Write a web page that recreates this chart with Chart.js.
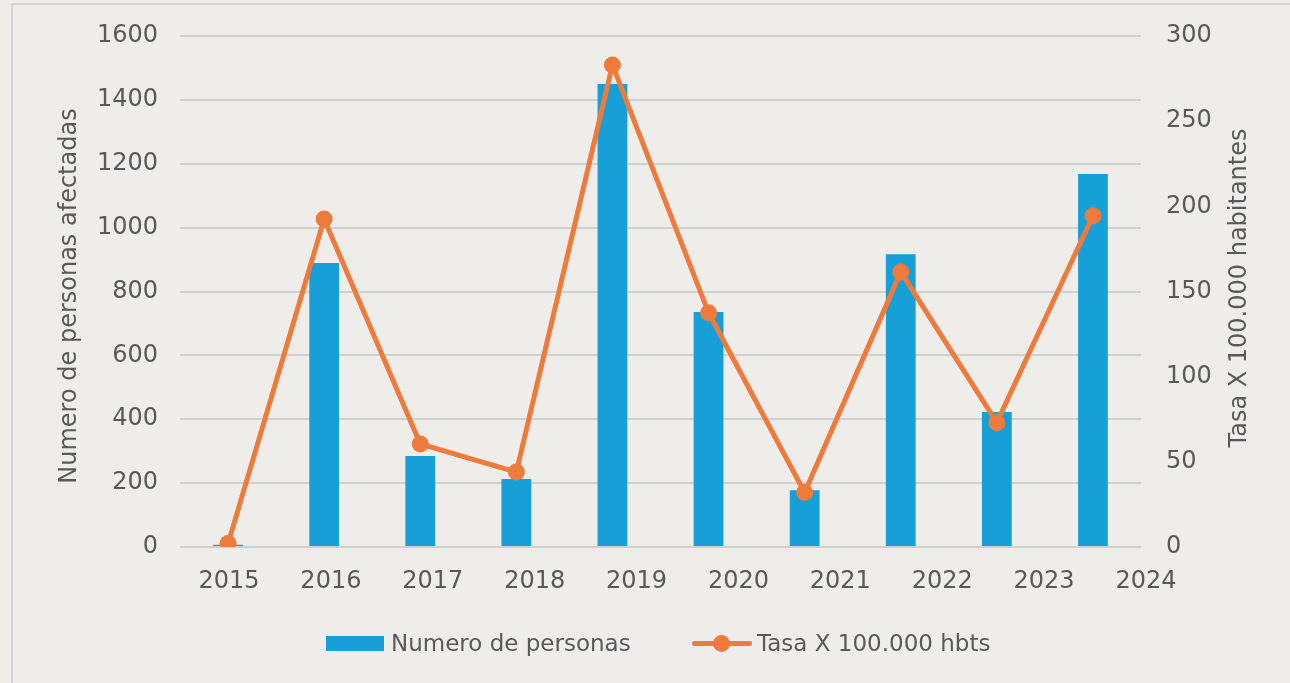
<!DOCTYPE html>
<html>
<head>
<meta charset="utf-8">
<script src="https://cdn.jsdelivr.net/npm/chart.js@4"></script>
<style>
  body { margin: 0; background: #eeede9; font-family: "DejaVu Sans", sans-serif; }
  #wrap { position: relative; width: 1290px; height: 683px; overflow: hidden; }
  #frame { position: absolute; left: 11px; top: 3px; width: 1400px; height: 800px;
           border-left: 2px solid #d2d4d5; border-top: 2px solid #d2d4d5; }
  canvas { position: absolute; left: 0; top: 0; }
  .leg { position: absolute; font-size: 23px; color: #595959; line-height: 1; }
  .sw-bar { position: absolute; left: 326px; top: 636px; width: 58px; height: 15px; background: #17a0d7; }
  .sw-line { position: absolute; left: 692px; top: 641px; width: 60px; height: 5px; border-radius: 3px; background: #ee7a3c; }
  .sw-dot { position: absolute; left: 713px; top: 635px; width: 17px; height: 17px; border-radius: 50%; background: #ee7a3c; }
</style>
</head>
<body>
<div id="wrap">
  <div id="frame"></div>
  <canvas id="chart" width="1290" height="683"></canvas>
  <div class="sw-bar"></div>
  <div class="leg" style="left:391px; top:632px;">Numero de personas</div>
  <div class="sw-line"></div>
  <div class="sw-dot"></div>
  <div class="leg" style="left:757px; top:632px;">Tasa X 100.000 hbts</div>
</div>
<script>
const years = ['2015', '2016', '2017', '2018', '2019', '2020', '2021', '2022', '2023', '2024'];
const personas = [7, 889, 285, 213, 1450, 736, 178, 917, 423, 1168];
const tasa = [2, 192.5, 60.5, 44, 283, 137.5, 32, 161.5, 73, 194.5];
const yearTicks = [2015, 2016, 2017, 2018, 2019, 2020, 2021, 2022, 2023, 2024];

const textColor = '#595959';
const gridColor = '#cfd1d1';
const tickFont = { family: 'DejaVu Sans', size: 24 };

// axis titles, both read bottom to top
const titles = {
  id: 'titles',
  afterDraw(chart) {
    const c = chart.ctx;
    const put = (txt, x, y) => {
      c.save();
      c.fillStyle = textColor;
      c.font = '24px "DejaVu Sans"';
      c.textAlign = 'center';
      c.textBaseline = 'middle';
      c.translate(x, y);
      c.rotate(-Math.PI / 2);
      c.fillText(txt, 0, 0);
      c.restore();
    };
    put('Numero de personas afectadas', 70, 296);
    put('Tasa X 100.000 habitantes', 1240, 288);
  }
};

// fixed axis sizes so the plot area sits where the original one is
function fitY(w) {
  return s => { s.width = w; s.paddingTop = 0; s.paddingBottom = 0; };
}

const ctx = document.getElementById('chart').getContext('2d');
new Chart(ctx, {
  type: 'bar',
  data: {
    labels: years,
    datasets: [{
      type: 'line',
      label: 'Tasa X 100.000 hbts',
      data: tasa,
      yAxisID: 'y1',
      xAxisID: 'x',
      borderColor: '#ee7a3c',
      backgroundColor: '#ee7a3c',
      borderWidth: 5,
      pointRadius: 8.5,
      pointBorderWidth: 0,
      pointBackgroundColor: '#ee7a3c',
      tension: 0,
      order: 0
    }, {
      label: 'Numero de personas',
      data: personas,
      yAxisID: 'y',
      xAxisID: 'x',
      backgroundColor: '#17a0d7',
      barPercentage: 0.31,
      categoryPercentage: 1,
      order: 1
    }]
  },
  options: {
    responsive: false,
    animation: false,
    layout: { padding: { left: 97, right: 77, top: 36, bottom: 95 } },
    plugins: {
      legend: { display: false },
      tooltip: { enabled: false }
    },
    scales: {
      x: { type: 'category', display: false, offset: true },
      xl: {
        type: 'linear',
        position: 'bottom',
        offset: false,
        bounds: 'data',
        min: 2014.519,
        max: 2023.951,
        afterBuildTicks: s => {
          s.ticks = yearTicks.map(v => ({ value: v }));
          s.min = 2014.519;
          s.max = 2023.951;
        },
        afterFit: s => { s.height = 41; s.paddingLeft = 0; s.paddingRight = 0; },
        grid: { display: false, offset: false },
        border: { display: false },
        ticks: {
          autoSkip: false, maxRotation: 0, padding: 12,
          color: textColor, font: tickFont,
          callback: v => String(v)
        }
      },
      y: {
        position: 'left',
        min: 0, max: 1600,
        afterFit: fitY(83),
        ticks: { stepSize: 200, padding: 22, color: textColor, font: tickFont, callback: v => String(v) },
        grid: { color: gridColor, lineWidth: 2, drawTicks: false },
        border: { display: false }
      },
      y1: {
        position: 'right',
        min: 0, max: 300,
        afterFit: fitY(72),
        ticks: { stepSize: 50, padding: 25, color: textColor, font: tickFont, callback: v => String(v) },
        grid: { display: false, drawTicks: false },
        border: { display: false }
      }
    }
  },
  plugins: [titles]
});
</script>
</body>
</html>
